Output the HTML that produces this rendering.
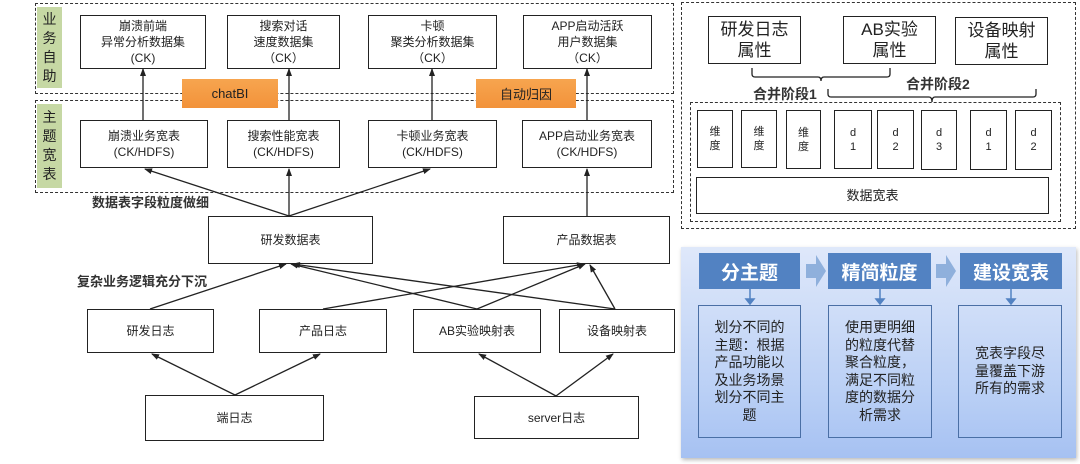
<!DOCTYPE html>
<html><head><meta charset="utf-8"><style>
body{margin:0;width:1080px;height:464px;background:#fff;position:relative;overflow:hidden;font-family:"Liberation Sans","Noto Sans CJK SC",sans-serif;color:#222}
.b{position:absolute;border:1.5px solid #222;background:#fff;box-sizing:border-box;display:flex;align-items:center;justify-content:center;text-align:center;font-size:12px;line-height:16px}
.d{position:absolute;border:1.5px dashed #333;box-sizing:border-box}
.g{position:absolute;background:#c6d8a4;font-size:14px;line-height:19px;text-align:center;color:#222;display:flex;align-items:center;justify-content:center}
.o{position:absolute;background:linear-gradient(#f7a54f,#f2923a);font-size:13px;display:flex;align-items:center;justify-content:center;color:#222}
.t{position:absolute;font-size:13px;font-weight:bold;color:#333;white-space:nowrap}
.h{position:absolute;background:#5282c2;color:#fff;font-weight:bold;font-size:19px;display:flex;align-items:center;justify-content:center}
.p{position:absolute;border:1.5px solid #4a6fa5;box-sizing:border-box;display:flex;align-items:center;justify-content:center;text-align:center;font-size:14px;line-height:17.5px;padding:0 12px}
</style></head><body>
<div class="d" style="left:35px;top:3px;width:639px;height:91px"></div>
<div class="d" style="left:35px;top:100px;width:639px;height:93px"></div>
<div class="g" style="left:37px;top:7px;width:25px;height:81px">业<br>务<br>自<br>助</div>
<div class="g" style="left:37px;top:104px;width:25px;height:84px">主<br>题<br>宽<br>表</div>
<div class="b" style="left:80px;top:15px;width:126px;height:54px">崩溃前端<br>异常分析数据集<br>(CK)</div>
<div class="b" style="left:227px;top:15px;width:113px;height:54px">搜索对话<br>速度数据集<br>（CK）</div>
<div class="b" style="left:368px;top:15px;width:129px;height:54px">卡顿<br>聚类分析数据集<br>（CK）</div>
<div class="b" style="left:523px;top:15px;width:129px;height:54px">APP启动活跃<br>用户数据集<br>（CK）</div>
<div class="o" style="left:182px;top:79px;width:96px;height:29px">chatBI</div>
<div class="o" style="left:476px;top:79px;width:100px;height:29px">自动归因</div>
<div class="b" style="left:80px;top:120px;width:128px;height:48px">崩溃业务宽表<br>(CK/HDFS)</div>
<div class="b" style="left:227px;top:120px;width:113px;height:48px">搜索性能宽表<br>(CK/HDFS)</div>
<div class="b" style="left:368px;top:120px;width:129px;height:48px">卡顿业务宽表<br>(CK/HDFS)</div>
<div class="b" style="left:522px;top:120px;width:130px;height:48px">APP启动业务宽表<br>(CK/HDFS)</div>
<div class="t" style="left:92px;top:192px">数据表字段粒度做细</div>
<div class="b" style="left:208px;top:216px;width:165px;height:48px">研发数据表</div>
<div class="b" style="left:503px;top:216px;width:167px;height:48px">产品数据表</div>
<div class="t" style="left:77px;top:271px">复杂业务逻辑充分下沉</div>
<div class="b" style="left:87px;top:309px;width:127px;height:44px">研发日志</div>
<div class="b" style="left:259px;top:309px;width:128px;height:44px">产品日志</div>
<div class="b" style="left:413px;top:309px;width:128px;height:44px">AB实验映射表</div>
<div class="b" style="left:559px;top:309px;width:116px;height:44px">设备映射表</div>
<div class="b" style="left:145px;top:395px;width:179px;height:46px">端日志</div>
<div class="b" style="left:474px;top:396px;width:165px;height:43px">server日志</div>
<svg style="position:absolute;left:0;top:0" width="1080" height="464">
<defs><marker id="a" markerWidth="8" markerHeight="8" refX="7" refY="4" orient="auto" markerUnits="userSpaceOnUse"><path d="M0,1 L8,4 L0,7z" fill="#222"/></marker></defs>
<g stroke="#222" stroke-width="1.3" fill="none" marker-end="url(#a)">
<line x1="143" y1="120" x2="143" y2="69"/><line x1="289" y1="120" x2="289" y2="69"/><line x1="432" y1="120" x2="432" y2="69"/><line x1="587" y1="120" x2="587" y2="69"/>
<line x1="289" y1="216" x2="145" y2="169"/><line x1="289" y1="216" x2="289" y2="169"/><line x1="289" y1="216" x2="430" y2="169"/><line x1="587" y1="216" x2="587" y2="169"/>
<line x1="150" y1="309" x2="286" y2="264"/><line x1="477" y1="309" x2="291" y2="264"/><line x1="615" y1="309" x2="293" y2="264"/>
<line x1="323" y1="309" x2="584" y2="264"/><line x1="477" y1="309" x2="585" y2="264"/><line x1="615" y1="309" x2="590" y2="265"/>
<line x1="235" y1="395" x2="152" y2="354"/><line x1="235" y1="395" x2="320" y2="354"/><line x1="556" y1="396" x2="479" y2="354"/><line x1="556" y1="396" x2="613" y2="354"/>
</g>
<g stroke="#222" stroke-width="1.3" fill="none">
<path d="M752,68 v6 q0,3 3,3 h63 q3,0 3,4 q0,-4 3,-4 h63 q3,0 3,-3 v-6"/>
<path d="M828,89 v5 q0,3 3,3 h98 q3,0 3,5 q0,-5 3,-5 h98 q3,0 3,-3 v-5"/>
</g>
</svg>
<div class="d" style="left:681px;top:2px;width:395px;height:227px"></div>
<div class="b" style="left:708px;top:16px;width:93px;height:48px;font-size:17px;line-height:21px">研发日志<br>属性</div>
<div class="b" style="left:843px;top:16px;width:93px;height:48px;font-size:17px;line-height:21px">AB实验<br>属性</div>
<div class="b" style="left:955px;top:17px;width:93px;height:48px;font-size:17px;line-height:21px">设备映射<br>属性</div>
<div class="t" style="left:753px;top:84px;font-size:14px">合并阶段1</div>
<div class="t" style="left:906px;top:74px;font-size:14px">合并阶段2</div>
<div class="d" style="left:690px;top:102px;width:371px;height:120px"></div>
<div class="b" style="left:697px;top:110px;width:36px;height:58px;font-size:11px;line-height:14px">维<br>度</div>
<div class="b" style="left:741px;top:110px;width:36px;height:58px;font-size:11px;line-height:14px">维<br>度</div>
<div class="b" style="left:786px;top:110px;width:35px;height:59px;font-size:11px;line-height:14px">维<br>度</div>
<div class="b" style="left:834px;top:110px;width:38px;height:59px;font-size:11px;line-height:14px">d<br>1</div>
<div class="b" style="left:877px;top:110px;width:37px;height:59px;font-size:11px;line-height:14px">d<br>2</div>
<div class="b" style="left:921px;top:110px;width:36px;height:60px;font-size:11px;line-height:14px">d<br>3</div>
<div class="b" style="left:970px;top:110px;width:37px;height:60px;font-size:11px;line-height:14px">d<br>1</div>
<div class="b" style="left:1015px;top:110px;width:37px;height:60px;font-size:11px;line-height:14px">d<br>2</div>
<div class="b" style="left:696px;top:177px;width:353px;height:37px;font-size:13px">数据宽表</div>
<div style="position:absolute;left:681px;top:247px;width:395px;height:211px;background:linear-gradient(#dfe8fa,#b9cff5 70%,#a6c1f2);box-shadow:1px 2px 4px #bbb"></div>
<div class="h" style="left:699px;top:253px;width:101px;height:36px">分主题</div>
<div class="h" style="left:828px;top:253px;width:103px;height:36px">精简粒度</div>
<div class="h" style="left:960px;top:253px;width:102px;height:36px">建设宽表</div>
<svg style="position:absolute;left:0;top:0" width="1080" height="464">
<g fill="#8fb0dc"><path d="M806,264 h10 v-9 l10,16 l-10,16 v-9 h-10z"/><path d="M936,264 h10 v-9 l10,16 l-10,16 v-9 h-10z"/></g>
<g stroke="#5282c2" stroke-width="1.5" fill="#5282c2"><line x1="750" y1="289" x2="750" y2="300"/><path d="M746,299 h8 l-4,5z"/><line x1="880" y1="289" x2="880" y2="300"/><path d="M876,299 h8 l-4,5z"/><line x1="1011" y1="289" x2="1011" y2="300"/><path d="M1007,299 h8 l-4,5z"/></g>
</svg>
<div class="p" style="left:698px;top:305px;width:103px;height:133px">划分不同的主题：根据产品功能以及业务场景划分不同主题</div>
<div class="p" style="left:828px;top:305px;width:104px;height:133px">使用更明细的粒度代替聚合粒度，满足不同粒度的数据分析需求</div>
<div class="p" style="left:958px;top:305px;width:104px;height:133px">宽表字段尽量覆盖下游所有的需求</div>
</body></html>
